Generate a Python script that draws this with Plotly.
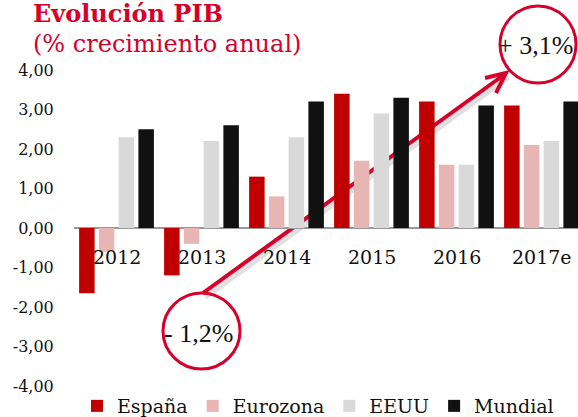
import plotly.graph_objects as go

# ---- data ----
years = ["2012", "2013", "2014", "2015", "2016", "2017e"]
espana = [-1.65, -1.2, 1.3, 3.4, 3.2, 3.1]
eurozona = [-0.6, -0.4, 0.8, 1.7, 1.6, 2.1]
eeuu = [2.3, 2.2, 2.3, 2.9, 1.6, 2.2]
mundial = [2.5, 2.6, 3.2, 3.3, 3.1, 3.2]
series_names = ["España", "Eurozona", "EEUU", "Mundial"]
series_colors = ["#c00000", "#e8b5b5", "#d9d9d9", "#111111"]
ytick_vals = [-4, -3, -2, -1, 0, 1, 2, 3, 4]
ytick_text = ["-4,00", "-3,00", "-2,00", "-1,00", "0,00", "1,00", "2,00", "3,00", "4,00"]
title_text = "Evolución PIB"
subtitle_text = "(% crecimiento anual)"
low_label = "- 1,2%"
high_label = "+ 3,1%"

W, H = 578, 417
ML, MR, MT, MB = 74, 0, 70, 31
PW, PH = W - ML - MR, H - MT - MB
RED = "#d6002a"
SERIF = "DejaVu Serif"


def px(xp):
    return (xp - ML) / PW


def py(yp):
    return (H - MB - yp) / PH


fig = go.Figure()
for name, vals, col in zip(series_names, [espana, eurozona, eeuu, mundial], series_colors):
    fig.add_trace(go.Bar(x=years, y=vals, name=name, marker=dict(color=col, line=dict(width=0))))

shapes = []
# shadow of arrow
shapes.append(dict(type="line", xref="paper", yref="paper", layer="below",
                   x0=px(205), y0=py(297), x1=px(508), y1=py(77),
                   line=dict(color="rgba(0,0,0,0.12)", width=6)))
# arrow line (behind bars)
shapes.append(dict(type="line", xref="paper", yref="paper", layer="below",
                   x0=px(203), y0=py(293), x1=px(505), y1=py(74),
                   line=dict(color=RED, width=4)))
# arrow head
shapes.append(dict(type="path", xref="paper", yref="paper", layer="above",
                   path="M {:.4f} {:.4f} L {:.4f} {:.4f} L {:.4f} {:.4f}".format(
                       px(485), py(78), px(506), py(73), px(496), py(93)),
                   line=dict(color=RED, width=4)))
# circles
shapes.append(dict(type="circle", xref="paper", yref="paper", layer="above",
                   x0=px(163), x1=px(240), y0=py(369), y1=py(293),
                   line=dict(color=RED, width=3)))
shapes.append(dict(type="circle", xref="paper", yref="paper", layer="above",
                   x0=px(500), x1=px(576), y0=py(83), y1=py(6),
                   line=dict(color=RED, width=3)))

annotations = []
for i, yr in enumerate(years):
    annotations.append(dict(x=i, y=-0.74, xref="x", yref="y", text=yr, showarrow=False,
                            font=dict(family=SERIF, size=19, color="#111"),
                            xanchor="center", yanchor="middle"))
annotations.append(dict(x=px(31), y=py(14), xref="paper", yref="paper", text="<b>" + title_text + "</b>",
                        showarrow=False, xanchor="left", yanchor="middle",
                        font=dict(family=SERIF, size=24, color=RED)))
annotations.append(dict(x=px(31), y=py(44), xref="paper", yref="paper", text=subtitle_text,
                        showarrow=False, xanchor="left", yanchor="middle",
                        font=dict(family=SERIF, size=24, color=RED)))
annotations.append(dict(x=px(198), y=py(333), xref="paper", yref="paper", text=low_label,
                        showarrow=False, xanchor="center", yanchor="middle",
                        font=dict(family="Liberation Serif", size=26, color="#111")))
annotations.append(dict(x=px(535), y=py(45), xref="paper", yref="paper", text=high_label,
                        showarrow=False, xanchor="center", yanchor="middle",
                        font=dict(family="Liberation Serif", size=26, color="#111")))

fig.update_layout(
    width=W, height=H,
    margin=dict(l=ML, r=MR, t=MT, b=MB, pad=0, autoexpand=False),
    paper_bgcolor="white", plot_bgcolor="white",
    barmode="group", bargap=0.07, bargroupgap=0.215,
    showlegend=True,
    legend=dict(orientation="h", x=px(77), y=py(406), xanchor="left", yanchor="middle",
                font=dict(family=SERIF, size=19, color="#111"), bgcolor="rgba(0,0,0,0)",
                traceorder="normal"),
    shapes=shapes, annotations=annotations,
    font=dict(family=SERIF, color="#111"),
)
fig.update_xaxes(type="category", range=[-0.5, -0.5 + PW / 85.0], showticklabels=False,
                 showgrid=False, zeroline=False, showline=False, ticks="", automargin=False)
fig.update_yaxes(range=[-4, 4], tickvals=ytick_vals, ticktext=ytick_text, showgrid=False,
                 zeroline=True, zerolinecolor="#999999", zerolinewidth=2, showline=False,
                 ticks="outside", ticklen=16, tickcolor="rgba(0,0,0,0)", automargin=False,
                 tickfont=dict(family=SERIF, size=16, color="#111"))

fig.write_html("out.html", config={"displayModeBar": False},
               post_script="document.body.style.margin='0';document.body.style.overflow='hidden';")
